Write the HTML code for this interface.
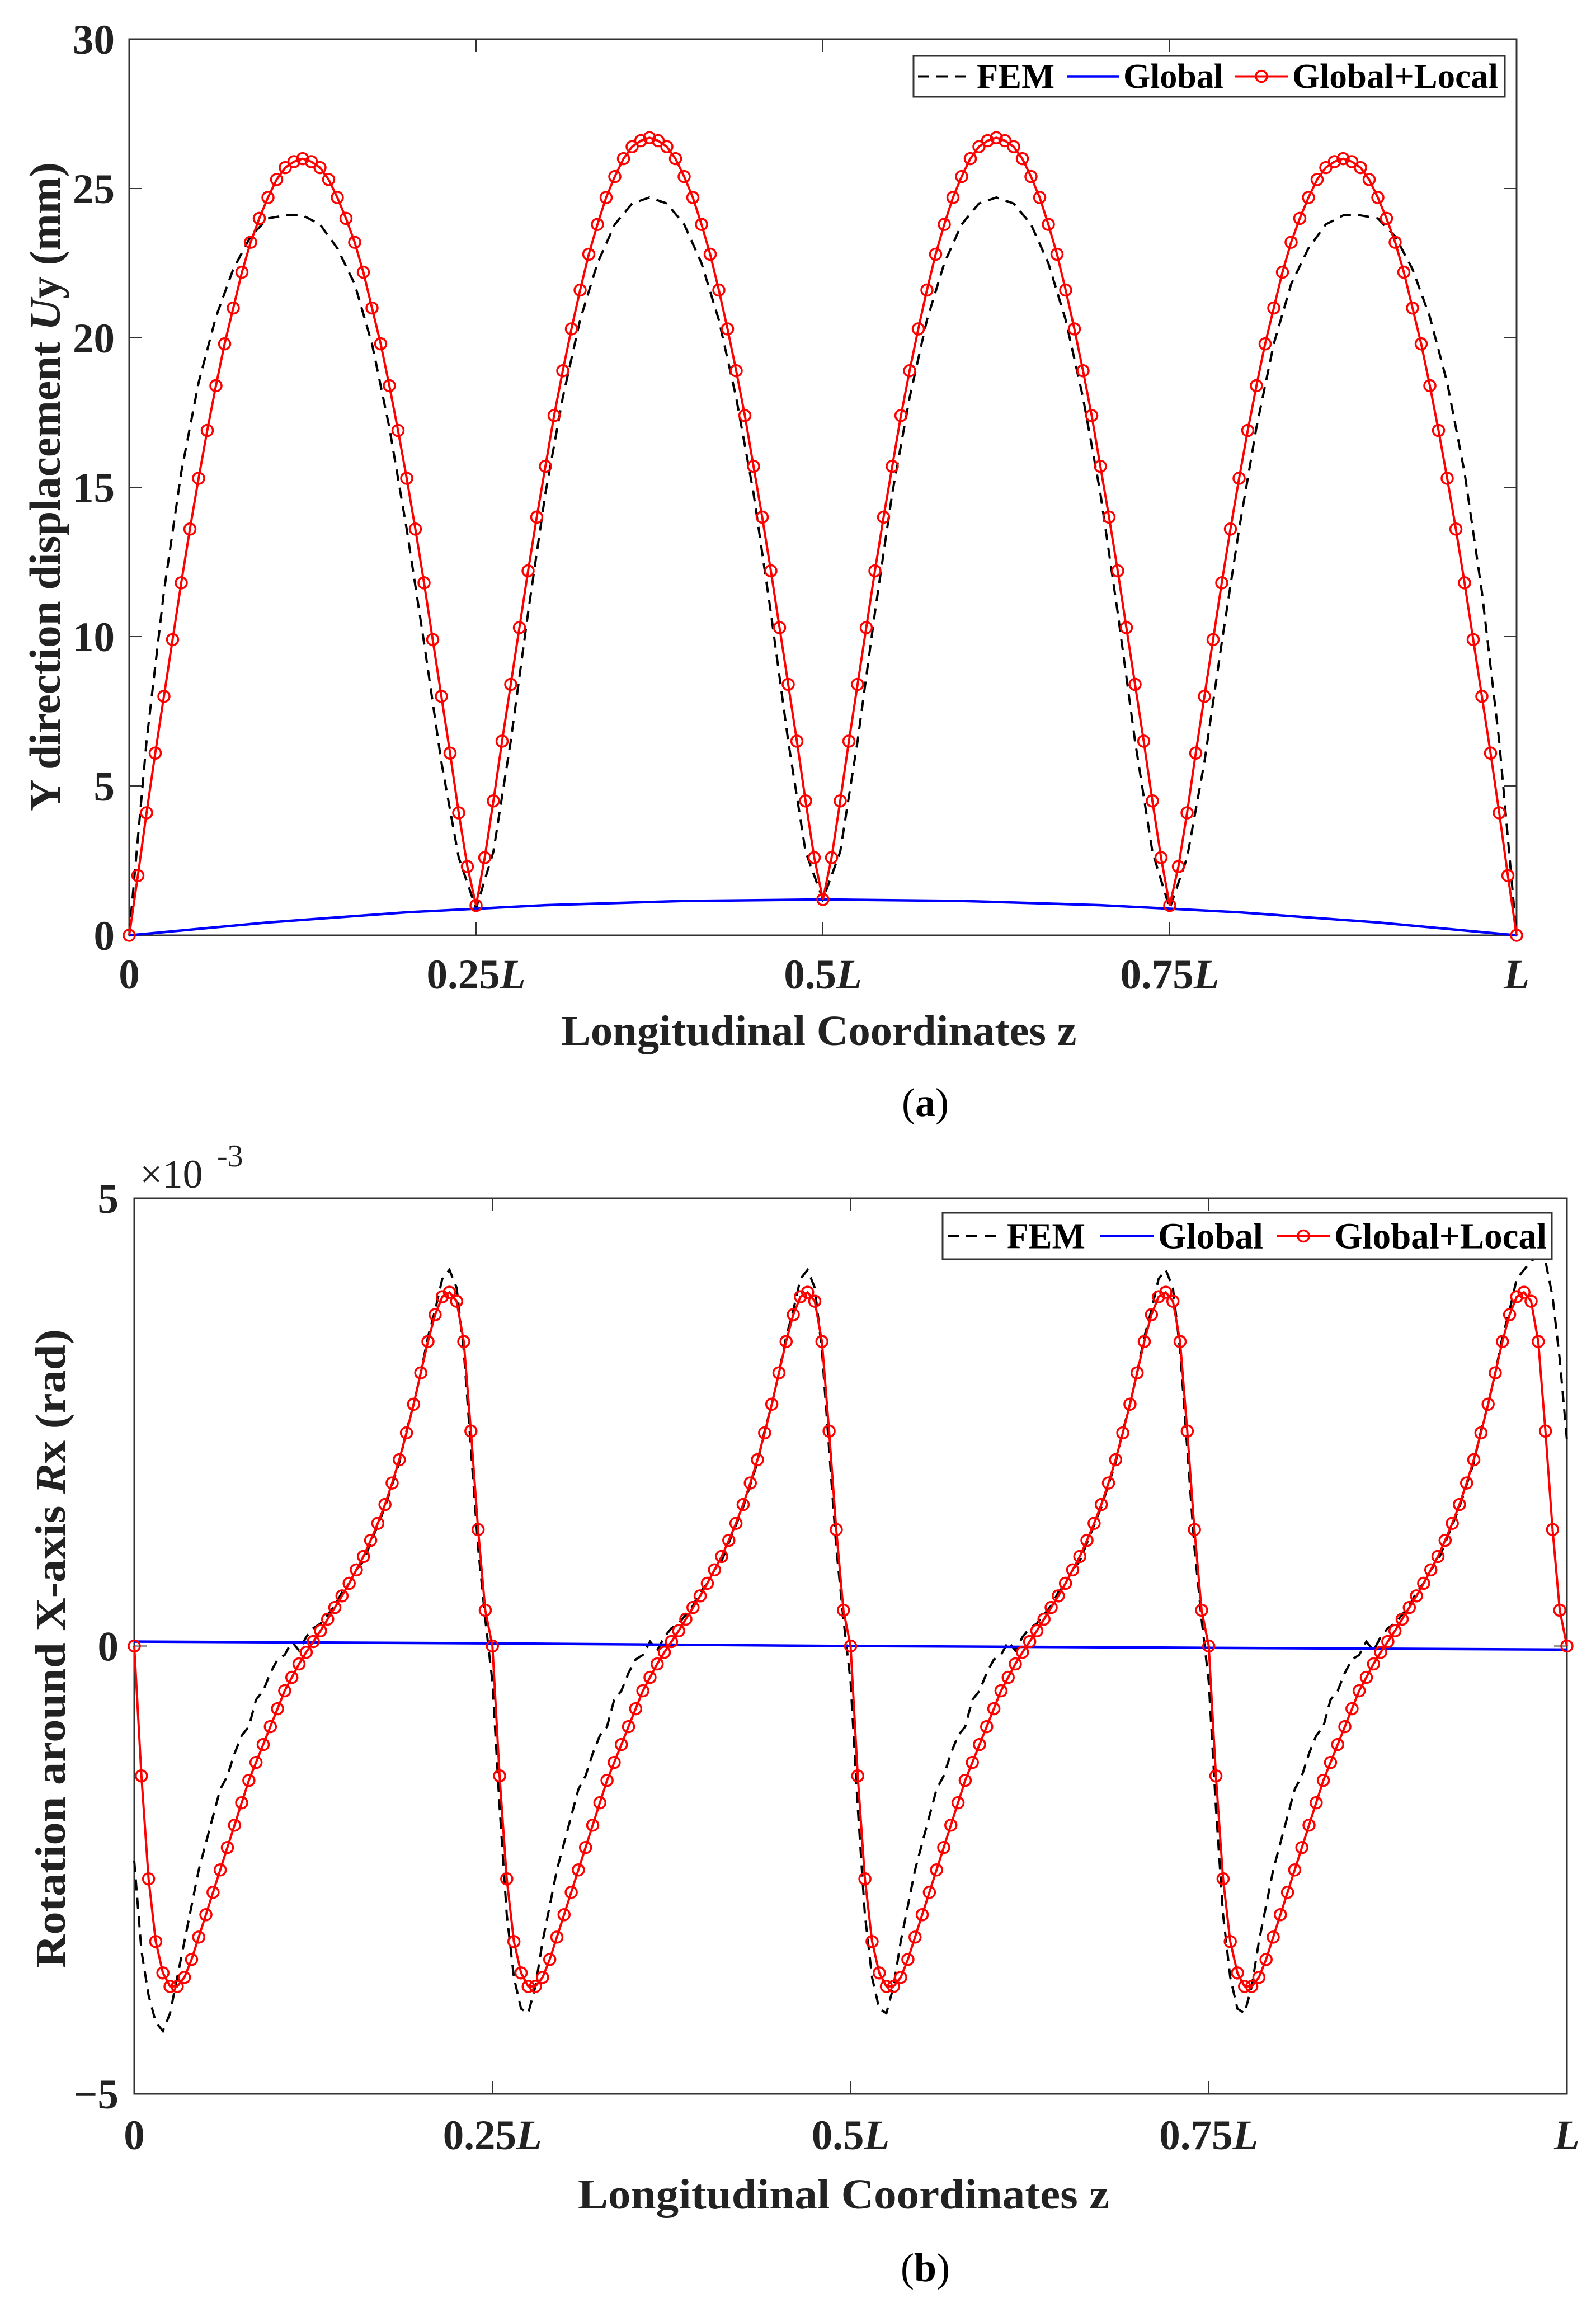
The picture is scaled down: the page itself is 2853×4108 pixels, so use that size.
<!DOCTYPE html>
<html><head><meta charset="utf-8"><style>
html,body{margin:0;padding:0;background:#fff;}
svg{display:block;font-family:"Liberation Serif",serif;}
</style></head><body>
<svg id="fig" xmlns="http://www.w3.org/2000/svg" width="2853" height="4108" viewBox="0 0 2853 4108">
<rect width="2853" height="4108" fill="#fff"/>
<g id="chartA"></g>
<g id="chartB"></g>
</svg>
<script>
// ---------- Chart (a) data ----------
const xTickLabels = ['0','0.25','0.5','0.75',''];
const xTickValues = [0,0.25,0.5,0.75,1];
const yTicksA = [0,5,10,15,20,25,30];
const yTicksB = [-5,0,5];
const yTickLabelsB = ['\u22125','0','5'];

const redA = [0,2.0,4.1,6.1,8.0,9.9,11.8,13.6,15.3,16.9,18.4,19.8,21.0,22.2,23.2,24.0,24.7,25.3,25.7,25.9,26.0,25.9,25.7,25.3,24.7,24.0,23.2,22.2,21.0,19.8,18.4,16.9,15.3,13.6,11.8,9.9,8.0,6.1,4.1,2.3,1.0,
2.6,4.5,6.5,8.4,10.3,12.2,14.0,15.7,17.4,18.9,20.3,21.6,22.8,23.8,24.7,25.4,26.0,26.4,26.6,26.7,26.6,26.4,26.0,25.4,24.7,23.8,22.8,21.6,20.3,18.9,17.4,15.7,14.0,12.2,10.3,8.4,6.5,4.5,2.6,1.2,
2.6,4.5,6.5,8.4,10.3,12.2,14.0,15.7,17.4,18.9,20.3,21.6,22.8,23.8,24.7,25.4,26.0,26.4,26.6,26.7,26.6,26.4,26.0,25.4,24.7,23.8,22.8,21.6,20.3,18.9,17.4,15.7,14.0,12.2,10.3,8.4,6.5,4.5,2.6,1.0,
2.3,4.1,6.1,8.0,9.9,11.8,13.6,15.3,16.9,18.4,19.8,21.0,22.2,23.2,24.0,24.7,25.3,25.7,25.9,26.0,25.9,25.7,25.3,24.7,24.0,23.2,22.2,21.0,19.8,18.4,16.9,15.3,13.6,11.8,9.9,8.0,6.1,4.1,2.0,0];
const femA = [0,6.5,11.5,15.5,18.5,20.7,22.3,23.4,24.0,24.1,24.1,23.8,23.0,21.8,19.8,17.0,13.6,9.8,5.8,2.6,0.9,
2.8,6.5,10.8,14.8,18.0,20.6,22.5,23.8,24.5,24.7,24.5,23.8,22.5,20.6,18.0,14.8,10.8,6.5,2.8,1.2,
2.8,6.5,10.8,14.8,18.0,20.6,22.5,23.8,24.5,24.7,24.5,23.8,22.5,20.6,18.0,14.8,10.8,6.5,2.8,0.9,
2.6,5.8,9.8,13.6,17.0,19.8,21.8,23.0,23.8,24.1,24.1,24.0,23.4,22.3,20.7,18.5,15.5,11.5,6.5,0];
const globalAz = [0,0.1,0.2,0.3,0.4,0.5,0.6,0.7,0.8,0.9,1];
const globalA = [0,0.43,0.77,1.01,1.15,1.2,1.15,1.01,0.77,0.43,0];

// ---------- Chart (b) data (x1e-3 rad) ----------
const redB = [0,-1.45,-2.6,-3.3,-3.65,-3.8,-3.8,-3.7,-3.5,-3.25,-3.0,-2.75,-2.5,-2.25,-2.0,-1.75,-1.5,-1.3,-1.1,-0.9,-0.7,-0.5,-0.35,-0.2,-0.07,0.05,0.17,0.3,0.43,0.56,0.7,0.85,1.0,1.18,1.37,1.58,1.82,2.08,2.38,2.7,3.05,3.4,3.7,3.9,3.95,3.85,3.4,2.4,1.3,0.4,0,
-1.45,-2.6,-3.3,-3.65,-3.8,-3.8,-3.7,-3.5,-3.25,-3.0,-2.75,-2.5,-2.25,-2.0,-1.75,-1.5,-1.3,-1.1,-0.9,-0.7,-0.5,-0.35,-0.2,-0.07,0.05,0.17,0.3,0.43,0.56,0.7,0.85,1.0,1.18,1.37,1.58,1.82,2.08,2.38,2.7,3.05,3.4,3.7,3.9,3.95,3.85,3.4,2.4,1.3,0.4,0,
-1.45,-2.6,-3.3,-3.65,-3.8,-3.8,-3.7,-3.5,-3.25,-3.0,-2.75,-2.5,-2.25,-2.0,-1.75,-1.5,-1.3,-1.1,-0.9,-0.7,-0.5,-0.35,-0.2,-0.07,0.05,0.17,0.3,0.43,0.56,0.7,0.85,1.0,1.18,1.37,1.58,1.82,2.08,2.38,2.7,3.05,3.4,3.7,3.9,3.95,3.85,3.4,2.4,1.3,0.4,0,
-1.45,-2.6,-3.3,-3.65,-3.8,-3.8,-3.7,-3.5,-3.25,-3.0,-2.75,-2.5,-2.25,-2.0,-1.75,-1.5,-1.3,-1.1,-0.9,-0.7,-0.5,-0.35,-0.2,-0.07,0.05,0.17,0.3,0.43,0.56,0.7,0.85,1.0,1.18,1.37,1.58,1.82,2.08,2.38,2.7,3.05,3.4,3.7,3.9,3.95,3.85,3.4,2.4,1.3,0.4,0];
const femB = [-2.4,-3.4,-3.9,-4.2,-4.3,-4.1,-3.7,-3.3,-2.9,-2.5,-2.2,-1.9,-1.6,-1.45,-1.2,-1.0,-0.9,-0.6,-0.5,-0.3,-0.15,-0.1,0.05,-0.05,0.1,0.2,0.25,0.35,0.45,0.6,0.7,0.85,0.95,1.15,1.35,1.55,1.8,2.05,2.4,2.7,3.05,3.45,3.75,4.1,4.2,4.0,3.3,2.2,1.1,0.3,-0.4,
-1.8,-3.0,-3.7,-4.05,-4.1,-3.8,-3.3,-2.9,-2.5,-2.2,-1.9,-1.6,-1.45,-1.2,-1.0,-0.9,-0.6,-0.5,-0.3,-0.15,-0.1,0.05,-0.05,0.1,0.2,0.25,0.35,0.45,0.6,0.7,0.85,0.95,1.15,1.35,1.55,1.8,2.05,2.4,2.7,3.05,3.45,3.75,4.1,4.2,4.0,3.3,2.2,1.1,0.3,-0.4,
-1.8,-3.0,-3.7,-4.05,-4.1,-3.8,-3.3,-2.9,-2.5,-2.2,-1.9,-1.6,-1.45,-1.2,-1.0,-0.9,-0.6,-0.5,-0.3,-0.15,-0.1,0.05,-0.05,0.1,0.2,0.25,0.35,0.45,0.6,0.7,0.85,0.95,1.15,1.35,1.55,1.8,2.05,2.4,2.7,3.05,3.45,3.75,4.1,4.2,4.0,3.3,2.2,1.1,0.3,-0.4,
-1.8,-3.0,-3.7,-4.05,-4.1,-3.8,-3.3,-2.9,-2.5,-2.2,-1.9,-1.6,-1.45,-1.2,-1.0,-0.9,-0.6,-0.5,-0.3,-0.15,-0.1,0.05,-0.05,0.1,0.2,0.25,0.35,0.45,0.6,0.7,0.85,0.95,1.15,1.35,1.55,1.8,2.05,2.4,2.7,3.05,3.45,3.75,4.1,4.2,4.3,4.35,4.3,3.9,3.2,2.3];
const globalBz = [0,0.25,0.5,0.75,1];
const globalB = [0.05,0.03,0.0,-0.02,-0.04];

const NS='http://www.w3.org/2000/svg';
function mk(parent, tag, attrs, text){
  const el=document.createElementNS(NS,tag);
  for(const k in attrs) el.setAttribute(k,attrs[k]);
  if(text!==undefined) el.textContent=text;
  parent.appendChild(el);
  return el;
}

function drawChart(g, cfg){
  const {x0,x1,yTop,yBot,yMin,yMax} = cfg;
  const sx = v => x0 + v*(x1-x0);
  const sy = v => yBot - (v-yMin)/(yMax-yMin)*(yBot-yTop);
  const frame = mk(g,'rect',{x:x0,y:yTop,width:x1-x0,height:yBot-yTop,fill:'none',stroke:'#333','stroke-width':3});
  
  
  // x ticks
  xTickValues.forEach((v,i)=>{
    const t1=mk(g,'line',{x1:sx(v),x2:sx(v),y1:yBot,y2:yBot-23,stroke:'#333','stroke-width':2});
    
    
    const t2=mk(g,'line',{x1:sx(v),x2:sx(v),y1:yTop,y2:yTop+23,stroke:'#333','stroke-width':2});
    
    
    const lb=mk(g,'text',{x:sx(v),y:cfg.xLabelY,'text-anchor':'middle','font-size':75,'font-weight':'bold',fill:'#222'});
    
    
    mk(lb,'tspan',{},xTickLabels[i]);
    if(i>0) mk(lb,'tspan',{'font-style':'italic'},'L');
  });
  cfg.yTicks.forEach((v,i)=>{
    const t1=mk(g,'line',{x1:x0,x2:x0+23,y1:sy(v),y2:sy(v),stroke:'#333','stroke-width':2});
    
    
    const t2=mk(g,'line',{x1:x1,x2:x1-23,y1:sy(v),y2:sy(v),stroke:'#333','stroke-width':2});
    
    
    const lb=mk(g,'text',{x:cfg.yLabelX,y:sy(v)+26,'text-anchor':'end','font-size':75,'font-weight':'bold',fill:'#222'},cfg.yTickLabels[i]);
    
    
  });
  // series
  const pts=(zs,vs)=>vs.map((v,i)=>sx(zs(i))+','+sy(v)).join(' ');
  const fem=mk(g,'polyline',{points:pts(i=>i/(cfg.fem.length-1),cfg.fem),fill:'none',stroke:'#000','stroke-width':4,'stroke-dasharray':'20 13'});
  
  
  const gl=mk(g,'polyline',{points:pts(i=>cfg.globalZ[i],cfg.global),fill:'none',stroke:'#0000ff','stroke-width':4.5});
  
  
  const rl=mk(g,'polyline',{points:pts(i=>i/(cfg.red.length-1),cfg.red),fill:'none',stroke:'#ff0000','stroke-width':4});
  
  
  cfg.red.forEach((v,i)=>{
    const c=mk(g,'circle',{cx:sx(i/(cfg.red.length-1)),cy:sy(v),r:10,fill:'none',stroke:'#ff0000','stroke-width':3.5});
    
    
  });
  // legend
  const L=cfg.legend;
  const lg=mk(g,'g',{});
  
  
  const lb=mk(lg,'rect',{x:L.x0,y:L.y0,width:L.x1-L.x0,height:L.y1-L.y0,fill:'#fff',stroke:'#333','stroke-width':3});
  
  
  const my=(L.y0+L.y1)/2;
  const e1=mk(lg,'line',{x1:L.e[0],x2:L.e[1],y1:my,y2:my,stroke:'#000','stroke-width':4,'stroke-dasharray':'20 13'});
  
  
  const e2=mk(lg,'line',{x1:L.e[4],x2:L.e[5],y1:my,y2:my,stroke:'#0000ff','stroke-width':4.5});
  
  
  const e3=mk(lg,'line',{x1:L.e[8],x2:L.e[9],y1:my,y2:my,stroke:'#ff0000','stroke-width':4});
  
  
  const e4=mk(lg,'circle',{cx:(L.e[8]+L.e[9])/2,cy:my,r:10,fill:'none',stroke:'#ff0000','stroke-width':3.5});
  
  
  const names=['FEM','Global','Global+Local'];
  names.forEach((n,k)=>{
    const t=mk(lg,'text',{x:L.e[2+4*k],y:my+L.fs*0.33,'font-size':L.fs,'font-weight':'bold',fill:'#000',textLength:L.e[3+4*k]-L.e[2+4*k],lengthAdjust:'spacingAndGlyphs'},n);
    
    
  });
}

const gA=document.getElementById('chartA');
drawChart(gA,{x0:231,x1:2711,yTop:70,yBot:1672,yMin:0,yMax:30,yTicks:yTicksA,yTickLabels:yTicksA.map(String),
  yLabelX:205,xLabelY:1767,fem:femA,red:redA,global:globalA,globalZ:globalAz,
  legend:{x0:1633,x1:2690,y0:100,y1:173,fs:62,e:[1641,1738,1746,1885,1908,2000,2008,2187,2208,2302,2310,2678]}});
const gB=document.getElementById('chartB');
drawChart(gB,{x0:240,x1:2801,yTop:2142,yBot:3743,yMin:-5,yMax:5,yTicks:yTicksB,yTickLabels:yTickLabelsB,
  yLabelX:212,xLabelY:3842,fem:femB,red:redB,global:globalB,globalZ:globalBz,
  legend:{x0:1685,x1:2774,y0:2168,y1:2251,fs:66,e:[1694,1790,1800,1940,1967,2063,2070,2258,2282,2378,2385,2765]}});

// titles
function txt(attrs,content,name){
  const t=mk(document.getElementById('fig'),'text',attrs);
  
  
  return t;
}
let t;
t=txt({x:1464,y:1868,'text-anchor':'middle','font-size':76,'font-weight':'bold',fill:'#222',textLength:921,lengthAdjust:'spacingAndGlyphs'},null,'x-axis-title-a');
t.textContent='Longitudinal Coordinates z';
t=txt({x:1654,y:1995,'text-anchor':'middle','font-size':72,fill:'#000'},null,'caption-a');
mk(t,'tspan',{},'(');mk(t,'tspan',{'font-weight':'bold'},'a');mk(t,'tspan',{},')');
t=txt({transform:'translate(107,870) rotate(-90)','text-anchor':'middle','font-size':78,'font-weight':'bold',fill:'#222',textLength:1160,lengthAdjust:'spacingAndGlyphs'},null,'y-axis-title-a');
mk(t,'tspan',{},'Y direction displacement ');mk(t,'tspan',{'font-style':'italic'},'U');mk(t,'tspan',{},'y (mm)');

t=txt({x:1508,y:3948,'text-anchor':'middle','font-size':76,'font-weight':'bold',fill:'#222',textLength:950,lengthAdjust:'spacingAndGlyphs'},null,'x-axis-title-b');
t.textContent='Longitudinal Coordinates z';
t=txt({x:1654,y:4078,'text-anchor':'middle','font-size':72,fill:'#000'},null,'caption-b');
mk(t,'tspan',{},'(');mk(t,'tspan',{'font-weight':'bold'},'b');mk(t,'tspan',{},')');
t=txt({transform:'translate(116,2947) rotate(-90)','text-anchor':'middle','font-size':76,'font-weight':'bold',fill:'#222',textLength:1142,lengthAdjust:'spacingAndGlyphs'},null,'y-axis-title-b');
mk(t,'tspan',{},'Rotation around X-axis ');mk(t,'tspan',{'font-style':'italic'},'R');mk(t,'tspan',{},'x (rad)');
t=txt({x:250,y:2123,'font-size':72,fill:'#222'},null,'y-exponent');
t.textContent='\u00d710';
t=txt({x:388,y:2085,'font-size':56,fill:'#222'},null,'y-exponent-power');
t.textContent='-3';
</script>
</body></html>
